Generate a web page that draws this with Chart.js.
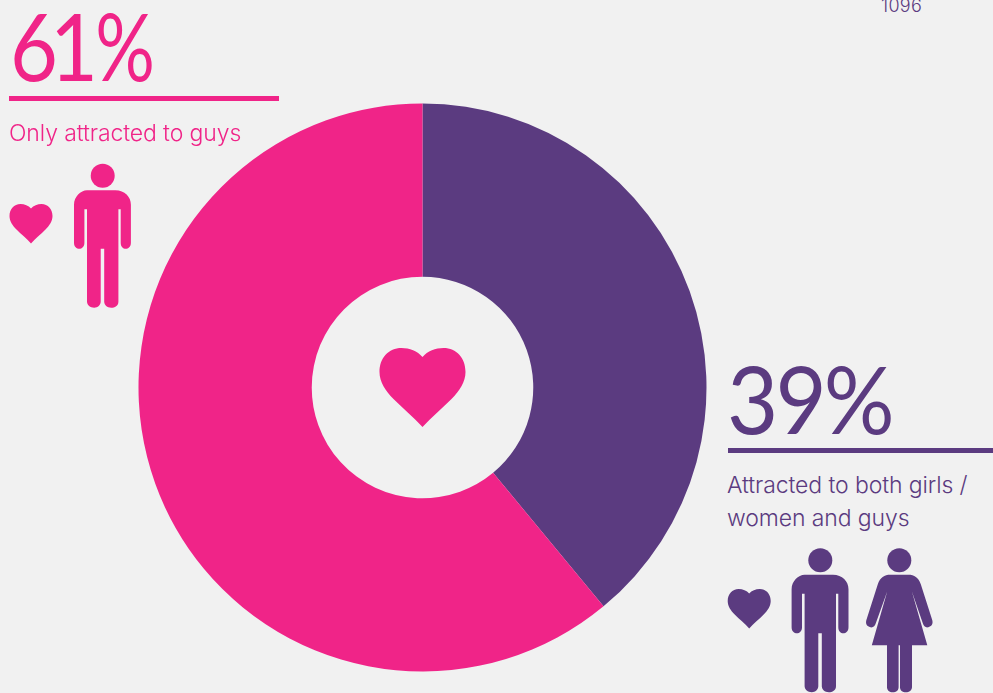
<!DOCTYPE html>
<html>
<head>
<meta charset="utf-8">
<script src="https://cdn.jsdelivr.net/npm/chart.js@4"></script>
<style>
    html, body { margin: 0; padding: 0; background: #f1f1f1; overflow: hidden; }
    #page { position: relative; width: 993px; height: 693px; overflow: hidden; }
    #page canvas { position: absolute; left: 138px; top: 103px; }
    #page svg { position: absolute; left: 0; top: 0; }
    .big, .sub, .code { position: absolute; white-space: nowrap; }
    .big { font: 400 94px/1 Lato, sans-serif; transform-origin: 0 0; }
    .big span { display: inline-block; transform-origin: 0 50%; }
    .sub { font: 300 23px/33px Inter, sans-serif; letter-spacing: -0.1px; }
    .code { font: 300 18px/20px Inter, sans-serif; letter-spacing: 0.3px; color: #5b3b80; left: 881px; top: -4px; }
    .rule { position: absolute; height: 5px; }
</style>
</head>
<body>
<div id="page">
    <canvas id="donut" width="570" height="570"></canvas>

    <div class="big" id="pinkBig" style="left:10px;top:-2px;color:#f02488;letter-spacing:-9px;transform:scaleX(0.88)"></div>
    <div class="rule" style="left:9px;top:96px;width:270px;background:#f02488"></div>
    <div class="sub" id="pinkSub" style="left:9px;top:117px;color:#f02488"></div>

    <div class="big" id="purpleBig" style="left:727px;top:351px;color:#5b3b80;letter-spacing:-3px;transform:scaleX(0.94)"></div>
    <div class="rule" style="left:728px;top:448px;width:265px;background:#5b3b80"></div>
    <div class="sub" id="purpleSub" style="left:727px;top:469px;color:#5b3b80"></div>
    <div class="code">1096</div>

    <svg width="993" height="693" viewBox="0 0 993 693">
        <defs>
            <!-- heart is 86 wide, 79 tall, origin top left -->
            <path id="heart" d="M43 9C38 3 30 0 22 0C9 0 0 10 0 24C0 34 6 43 14 51C23 60 34 69 43 79C52 69 63 60 72 51C80 43 86 34 86 24C86 10 77 0 64 0C56 0 48 3 43 9Z"/>
            <!-- figures have their origin at the centre of the head -->
            <g id="man">
                <circle r="12"/>
                <path d="M-15.7 14.5H12.7C22 14.5 28.2 21 28.2 29V67C28.2 71 25.5 73 23 73C20.5 73 18 71 18 67V33.5H15.7V73V126C15.7 130 12 132 8.5 132C4.5 132 1.5 129 1.5 126V73H-2V126C-2 129 -5 132 -8.5 132C-12.5 132 -15.7 129 -15.7 126V33.5H-18.3V67C-18.3 71 -21 73 -23.3 73C-26 73 -28.7 71 -28.7 67V29C-28.7 21 -22 14.5 -15.7 14.5Z"/>
            </g>
            <g id="woman">
                <circle r="12"/>
                <path d="M-9 14.5H9C15 14.5 19 17 21.5 24L33 60C34 64 32 66 29 67C26 67.500 24.500 66 23.500 63L12.500 31L28 85H12.700V127C12.700 130 9.700 132 6.700 132C3 132 0.700 130 0.700 127V85H-0.700V127C-0.700 130 -3 132 -6.700 132C-9.700 132 -12.300 130 -12.300 127V85H-27.500L-12 31L-23.500 63C-24.500 66 -26 67.500 -29 67C-32 66 -34 64 -33 60L-21.500 24C-19 17 -15 14.5 -9 14.5Z"/>
            </g>
        </defs>
        <use href="#heart" fill="#f02488" transform="translate(379.500 348)"/>
        <use href="#heart" fill="#f02488" transform="translate(9.500 204) scale(0.5)"/>
        <use href="#man" fill="#f02488" transform="translate(102.700 175.700)"/>
        <use href="#heart" fill="#5b3b80" transform="translate(727.700 589) scale(0.5)"/>
        <use href="#man" fill="#5b3b80" transform="translate(820.300 560.300)"/>
        <use href="#woman" fill="#5b3b80" transform="translate(899.300 560.300)"/>
    </svg>
</div>

<script>
let categories = ['Attracted to both girls / women and guys', 'Only attracted to guys'];
let shares = [39, 61];
let sliceColors = ['#5b3b80', '#f02488'];

// text blocks next to the ring come from the same arrays as the slices
document.getElementById('purpleBig').textContent = shares[0] + '%';
document.getElementById('pinkBig').innerHTML = shares[1] + '<span style="margin-left:6px;transform:scaleX(0.9)">%</span>';
document.getElementById('pinkSub').textContent = categories[1];
document.getElementById('purpleSub').innerHTML = 'Attracted to both girls /<br>women and guys';

new Chart(document.getElementById('donut'), {
    type: 'doughnut',
    data: {
        labels: categories,
        datasets: [{
            data: shares,
            backgroundColor: sliceColors,
            borderWidth: 0
        }]
    },
    options: {
        responsive: false,
        animation: false,
        cutout: '39%',
        layout: { padding: { left: 0.5, top: 0.5, right: 1.5, bottom: 1.5 } },
        plugins: {
            legend: { display: false },
            tooltip: { enabled: false }
        }
    }
});
</script>
</body>
</html>
